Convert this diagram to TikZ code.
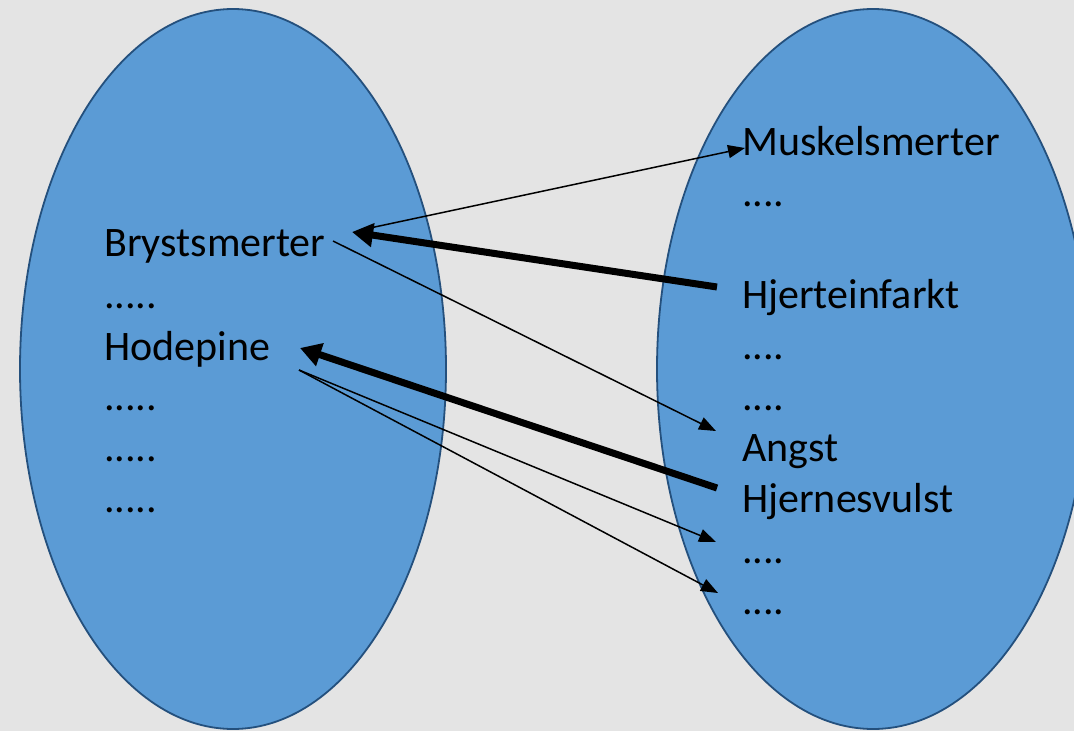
\documentclass[tikz,border=0pt]{standalone}
\usepackage{fontspec}
\setmainfont{Carlito}
\usetikzlibrary{shapes.geometric,arrows.meta}
\definecolor{bg}{HTML}{E4E4E4}
\definecolor{blobfill}{HTML}{5B9BD5}
\definecolor{blobline}{HTML}{24507D}
\tikzset{
  blob/.style={ellipse, fill=blobfill, draw=blobline, line width=1.8pt, inner sep=0pt},
  lbl/.style={anchor=base west, inner sep=0pt, font=\fontsize{42}{42}\selectfont},
  thin/.style={draw=black, line width=1.5pt, -{Triangle[length=17pt,width=13pt]}},
  thick/.style={draw=black, line width=7pt, -{Triangle[length=21pt,width=23pt]}},
}
\begin{document}
\begin{tikzpicture}[x=1pt,y=-1pt]
\fill[bg] (0,0) rectangle (1074,731);
\useasboundingbox (0,0) rectangle (1074,731);
\node[blob, minimum width=426pt, minimum height=720pt] (L) at (233,369) {};
\node[blob, minimum width=432pt, minimum height=720pt] (R) at (873,369) {};

% left labels
\node[lbl] (bryst) at (104,256) {Brystsmerter};
\node[lbl] (l2) at (104,308) {.....};
\node[lbl] (hode) at (104,360) {Hodepine};
\node[lbl] (l4) at (104,410) {.....};
\node[lbl] (l5) at (104,461) {.....};
\node[lbl] (l6) at (104,512) {.....};

% right labels
\node[lbl] (musk) at (742,155) {Muskelsmerter};
\node[lbl] (r2) at (742,206) {....};
\node[lbl] (hjerte) at (742,308) {Hjerteinfarkt};
\node[lbl] (r4) at (742,359) {....};
\node[lbl] (r5) at (742,410) {....};
\node[lbl] (angst) at (742,461) {Angst};
\node[lbl] (hjerne) at (742,512) {Hjernesvulst};
\node[lbl] (r8) at (742,563) {....};
\node[lbl] (r9) at (742,614) {....};

% connector end points
\coordinate (a1s) at (370,228);
\coordinate (a1e) at (745,148);
\coordinate (a2s) at (717,287);
\coordinate (a2e) at (352,232);
\coordinate (a3s) at (333,241);
\coordinate (a3e) at (716,431);
\coordinate (a4s) at (717,488);
\coordinate (a4e) at (300,348);
\coordinate (a5s) at (299,370);
\coordinate (a5e) at (716,542);
\coordinate (a6e) at (718,593);

\draw[thin] (a1s) -- (a1e);
\draw[thick] (a2s) -- (a2e);
\draw[thin] (a3s) -- (a3e);
\draw[thick] (a4s) -- (a4e);
\draw[thin] (a5s) -- (a5e);
\draw[thin] (a5s) -- (a6e);
\end{tikzpicture}
\end{document}
